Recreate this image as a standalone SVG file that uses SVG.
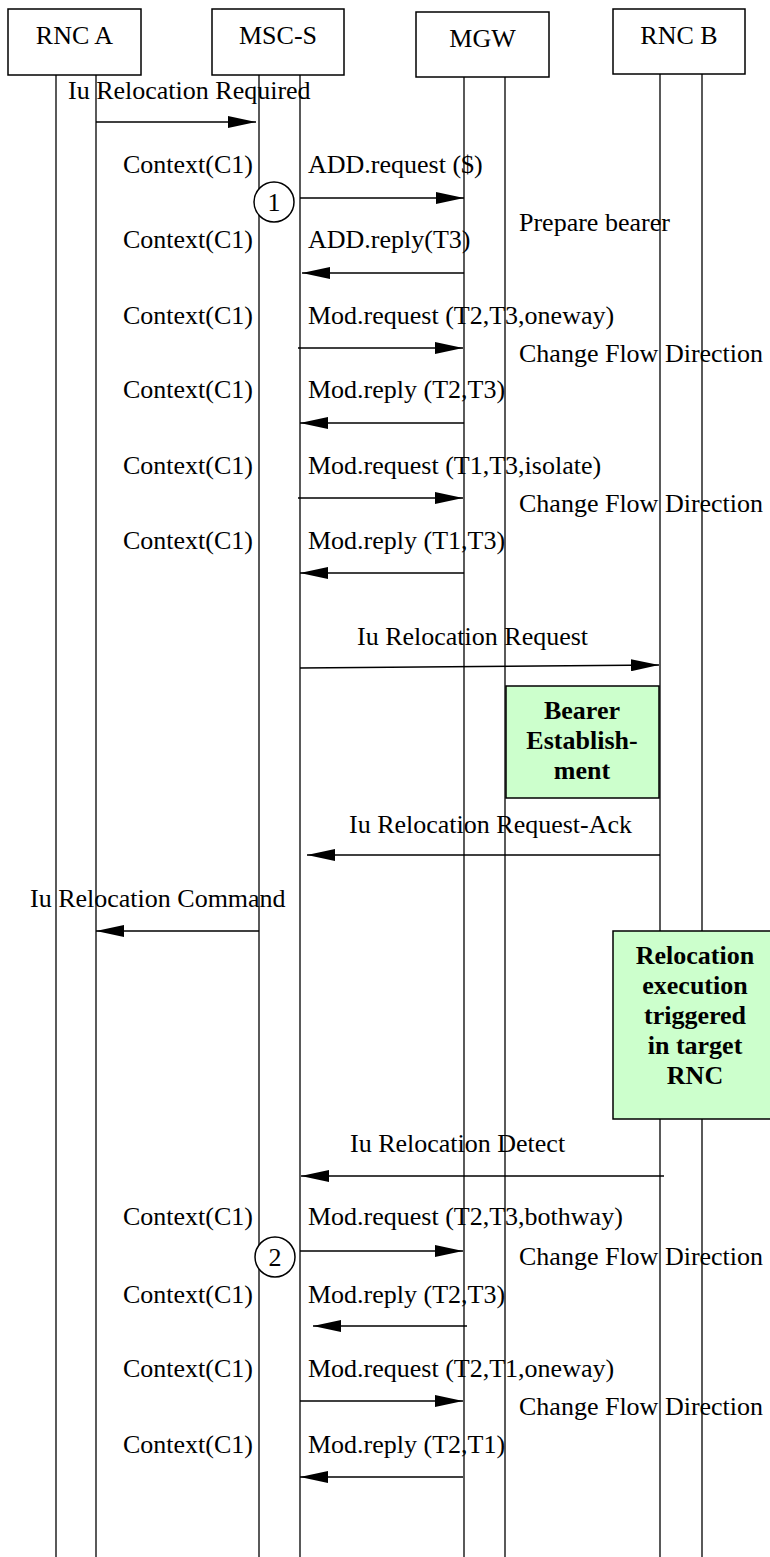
<svg xmlns="http://www.w3.org/2000/svg" width="770" height="1557" viewBox="0 0 770 1557">
<style>
text{font-family:"Liberation Serif","Times New Roman",serif;font-size:26px;fill:#000}
.c{text-anchor:middle}
.b{font-weight:bold;text-anchor:middle}
.box{fill:#fff;stroke:#000;stroke-width:1.5}
.life{stroke:#000;stroke-width:1.3;fill:none}
.msg{stroke:#000;stroke-width:1.6;fill:none}
.act{fill:#ccffcc;stroke:#000;stroke-width:1.5}
.num{fill:#fff;stroke:#000;stroke-width:1.5}
</style>
<defs>
<marker id="ah" markerUnits="userSpaceOnUse" markerWidth="28" markerHeight="12" refX="28" refY="6" orient="auto">
<path d="M0,0 L28,6 L0,12 Z" fill="#000"/>
</marker>
</defs>
<g id="lifelines">
<line class="life" x1="56" y1="75" x2="56" y2="1557"/>
<line class="life" x1="96" y1="75" x2="96" y2="1557"/>
<line class="life" x1="259" y1="75" x2="259" y2="1557"/>
<line class="life" x1="300" y1="75" x2="300" y2="1557"/>
<line class="life" x1="464" y1="77" x2="464" y2="1557"/>
<line class="life" x1="505" y1="77" x2="505" y2="1557"/>
<line class="life" x1="660" y1="74" x2="660" y2="1557"/>
<line class="life" x1="702" y1="74" x2="702" y2="1557"/>
</g>
<g id="rnca"><rect class="box" x="8" y="9" width="133" height="66"/><text class="c" x="74.5" y="44">RNC A</text></g>
<g id="mscs"><rect class="box" x="212" y="9" width="132" height="66"/><text class="c" x="278" y="44">MSC-S</text></g>
<g id="mgw"><rect class="box" x="416" y="12" width="133" height="65"/><text class="c" x="482.5" y="47">MGW</text></g>
<g id="rncb"><rect class="box" x="613" y="9" width="132" height="65"/><text class="c" x="679" y="44">RNC B</text></g>
<g id="connectors">
<line class="msg" x1="96" y1="122" x2="256" y2="122" marker-end="url(#ah)"/>
<line class="msg" x1="300" y1="198" x2="464" y2="198" marker-end="url(#ah)"/>
<line class="msg" x1="464" y1="273" x2="302" y2="273" marker-end="url(#ah)"/>
<line class="msg" x1="298" y1="348" x2="463" y2="348" marker-end="url(#ah)"/>
<line class="msg" x1="464" y1="423" x2="300" y2="423" marker-end="url(#ah)"/>
<line class="msg" x1="298" y1="498" x2="463" y2="498" marker-end="url(#ah)"/>
<line class="msg" x1="464" y1="573" x2="300" y2="573" marker-end="url(#ah)"/>
<line class="msg" x1="300" y1="668" x2="659" y2="665" marker-end="url(#ah)"/>
<line class="msg" x1="660" y1="855" x2="307" y2="855" marker-end="url(#ah)"/>
<line class="msg" x1="259" y1="931" x2="96" y2="931" marker-end="url(#ah)"/>
<line class="msg" x1="664" y1="1176" x2="301" y2="1176" marker-end="url(#ah)"/>
<line class="msg" x1="300" y1="1251" x2="463" y2="1251" marker-end="url(#ah)"/>
<line class="msg" x1="467" y1="1326" x2="313" y2="1326" marker-end="url(#ah)"/>
<line class="msg" x1="300" y1="1401" x2="463" y2="1401" marker-end="url(#ah)"/>
<line class="msg" x1="463" y1="1477" x2="300" y2="1477" marker-end="url(#ah)"/>
</g>
<g id="labels">
<text x="68" y="99">Iu Relocation Required</text>
<text x="123" y="173">Context(C1)</text>
<text x="308" y="173">ADD.request ($)</text>
<text x="123" y="248">Context(C1)</text>
<text x="308" y="248">ADD.reply(T3)</text>
<text x="519" y="231">Prepare bearer</text>
<text x="123" y="324">Context(C1)</text>
<text x="308" y="324">Mod.request (T2,T3,oneway)</text>
<text x="519" y="362">Change Flow Direction</text>
<text x="123" y="398">Context(C1)</text>
<text x="308" y="398">Mod.reply (T2,T3)</text>
<text x="123" y="474">Context(C1)</text>
<text x="308" y="474">Mod.request (T1,T3,isolate)</text>
<text x="519" y="512">Change Flow Direction</text>
<text x="123" y="549">Context(C1)</text>
<text x="308" y="549">Mod.reply (T1,T3)</text>
<text x="357" y="645">Iu Relocation Request</text>
<text x="349" y="833">Iu Relocation Request-Ack</text>
<text x="30" y="907">Iu Relocation Command</text>
<text x="350" y="1152">Iu Relocation Detect</text>
<text x="123" y="1225">Context(C1)</text>
<text x="308" y="1225">Mod.request (T2,T3,bothway)</text>
<text x="519" y="1265">Change Flow Direction</text>
<text x="123" y="1303">Context(C1)</text>
<text x="308" y="1303">Mod.reply (T2,T3)</text>
<text x="123" y="1377">Context(C1)</text>
<text x="308" y="1377">Mod.request (T2,T1,oneway)</text>
<text x="519" y="1415">Change Flow Direction</text>
<text x="123" y="1453">Context(C1)</text>
<text x="308" y="1453">Mod.reply (T2,T1)</text>
</g>
<g id="step1"><circle class="num" cx="274" cy="202" r="20"/><text class="c" x="274" y="211">1</text></g>
<g id="step2"><circle class="num" cx="275" cy="1257" r="20"/><text class="c" x="275" y="1266">2</text></g>
<g id="bearer-establishment"><rect class="act" x="506" y="686" width="153" height="112"/>
<text class="b" x="582" y="719">Bearer</text><text class="b" x="582" y="749">Establish-</text><text class="b" x="582" y="779">ment</text></g>
<g id="relocation-execution"><rect class="act" x="613" y="931" width="165" height="188"/>
<text class="b" x="695" y="964">Relocation</text><text class="b" x="695" y="994">execution</text><text class="b" x="695" y="1024">triggered</text><text class="b" x="695" y="1054">in target</text><text class="b" x="695" y="1084">RNC</text></g>
</svg>
